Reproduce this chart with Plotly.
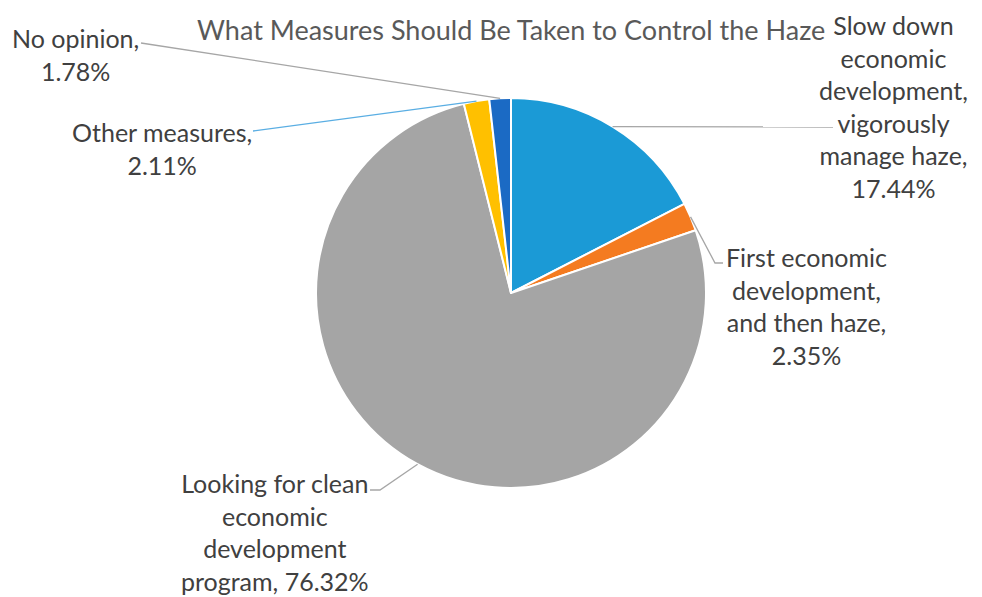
import math
import plotly.graph_objects as go

# ---- data ----
categories = [
    "Slow down economic development, vigorously manage haze",
    "First economic development, and then haze",
    "Looking for clean economic development program",
    "Other measures",
    "No opinion",
]
values = [17.44, 2.35, 76.32, 2.11, 1.78]
label_texts = [
    "Slow down<br>economic<br>development,<br>vigorously<br>manage haze,<br>17.44%",
    "First economic<br>development,<br>and then haze,<br>2.35%",
    "Looking for clean<br>economic<br>development<br>program, 76.32%",
    "Other measures,<br>2.11%",
    "No opinion,<br>1.78%",
]
colors = ["#1b9ad6", "#f47b20", "#a5a5a5", "#ffc000", "#1b6ac4"]
title = "What Measures Should Be Taken to Control the Haze"

# ---- layout constants (window pixels) ----
W, H = 982, 597
OFF = 8  # page body margin offset
CX, CY, R = 511, 293, 195
FONT = "Lato"

def px(x):
    return (x - OFF) / W

def py(y):
    return 1 - (y - OFF) / H

# label placement: text centre, leader-line path after the slice edge point, line colour
label_layout = [
    dict(tx=893, ty=106, path=[(833, 127)], lc="#a6a6a6"),
    dict(tx=806, ty=306, path=[(715, 263), (723, 263)], lc="#a6a6a6"),
    dict(tx=275, ty=532, path=[(380, 490), (370, 490)], lc="#a6a6a6"),
    dict(tx=162, ty=148, path=[(253, 131)], lc="#5aaee3"),
    dict(tx=75, ty=54, path=[(141, 43)], lc="#a6a6a6"),
]

fig = go.Figure(
    go.Pie(
        labels=categories,
        values=values,
        sort=False,
        direction="clockwise",
        rotation=0,
        marker=dict(colors=colors, line=dict(color="white", width=2)),
        textinfo="none",
        hoverinfo="label+percent",
        showlegend=False,
        domain=dict(x=[px(CX - R), px(CX + R)], y=[py(CY + R), py(CY - R)]),
    )
)

total = sum(values)
cum = 0.0
shapes = []
annotations = []
for val, txt, lay in zip(values, label_texts, label_layout):
    mid = (cum + val / 2) / total * 2 * math.pi
    cum += val
    ex = CX + R * math.sin(mid)
    ey = CY - R * math.cos(mid)
    pts = [(ex, ey)] + lay["path"]
    path = "M " + " L ".join(f"{px(x):.5f},{py(y):.5f}" for x, y in pts)
    shapes.append(dict(type="path", xref="paper", yref="paper", path=path,
                       line=dict(color=lay["lc"], width=1.3)))
    annotations.append(dict(
        text=txt, x=px(lay["tx"]), y=py(lay["ty"]), xref="paper", yref="paper",
        xanchor="center", yanchor="middle", align="center", showarrow=False,
        font=dict(family=FONT, size=25, color="#404040"),
    ))

annotations.append(dict(
    text=title, x=px(511), y=py(29), xref="paper", yref="paper",
    xanchor="center", yanchor="middle", showarrow=False,
    font=dict(family=FONT, size=27, color="#595959"),
))

fig.update_layout(
    width=W, height=H,
    margin=dict(l=0, r=0, t=0, b=0),
    paper_bgcolor="white", plot_bgcolor="white",
    shapes=shapes, annotations=annotations,
)

fig.write_html("out.html")
